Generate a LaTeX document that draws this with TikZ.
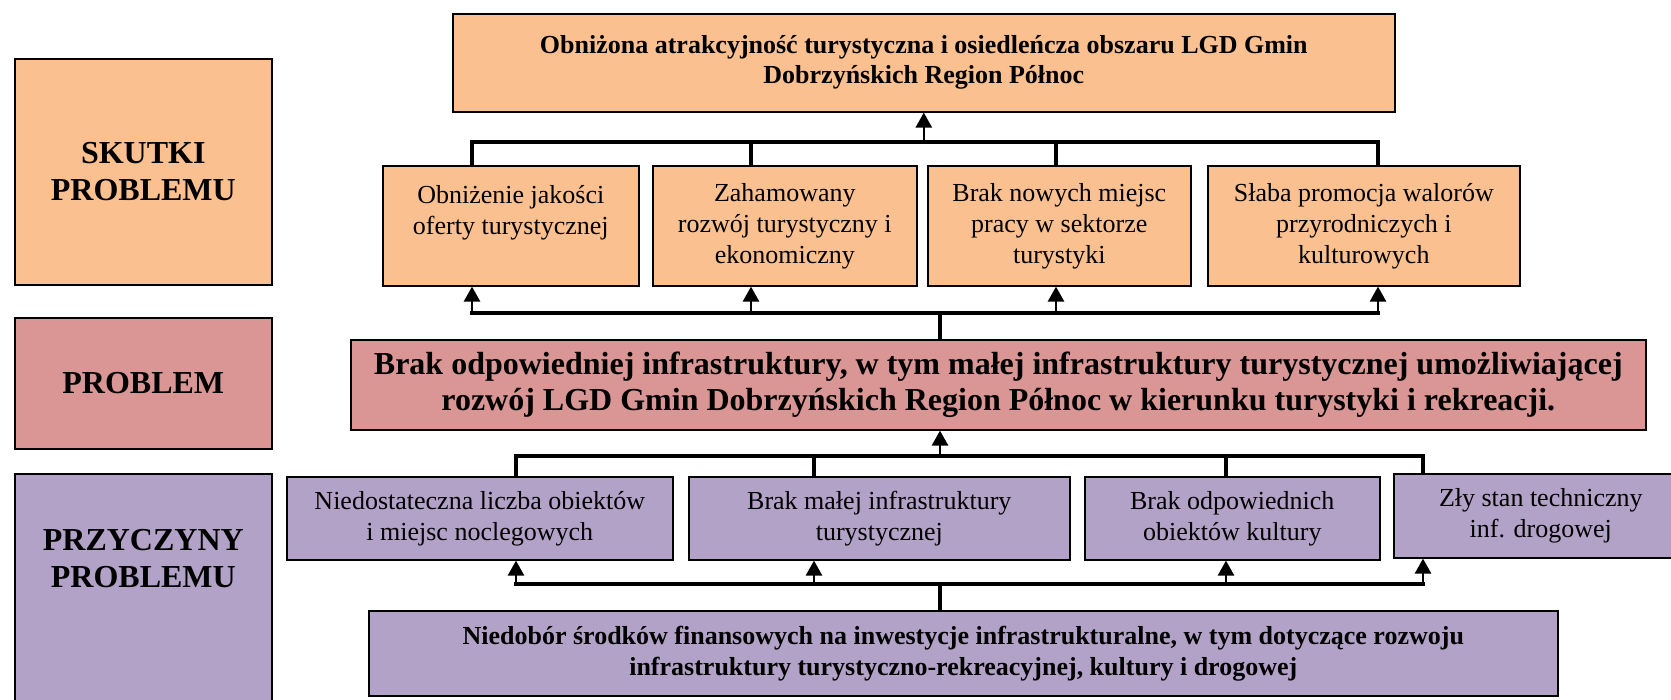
\documentclass[tikz,border=0pt]{standalone}
\usepackage{fontspec}
\setmainfont{Liberation Serif}
\usetikzlibrary{positioning,arrows.meta}
\definecolor{skutekfill}{HTML}{FAC090}
\definecolor{problemfill}{HTML}{D99694}
\definecolor{przyczynafill}{HTML}{B3A2C7}

\begin{document}
\begin{tikzpicture}[x=0.5pt, y=-0.5pt,
  box/.style = {shape=rectangle, draw, line width=0.8pt,
    align=center, inner sep=2pt, anchor=north west},
  side/.style = {box, minimum width=128.5pt,
    font=\fontsize{16}{18.5}\selectfont\bfseries},
  sidetext/.style = {align=center, inner sep=0pt,
    font=\fontsize{16}{18.5}\selectfont\bfseries},
  skutek/.style = {box, fill=skutekfill, minimum height=60pt,
    font=\fontsize{13}{15.5}\selectfont},
  przyczyna/.style = {box, fill=przyczynafill, minimum height=41.5pt,
    font=\fontsize{13}{15.5}\selectfont},
  bus/.style = {draw, line width=1.7pt, line cap=rect},
  up/.style = {draw, line width=1.3pt, -{Triangle[width=8pt,length=7.5pt]}}
  ]
  \useasboundingbox (0,0) rectangle (1671,700);

  % lewa kolumna
  \node[side, fill=skutekfill, minimum height=113pt] (skutki) at (14,58) {SKUTKI\\PROBLEMU};
  \node[side, fill=problemfill, minimum height=65.5pt] (problemSide) at (14,317) {PROBLEM};
  \node[side, fill=przyczynafill, minimum height=123.5pt] (przyczyny) at (14,473) {};
  \node[sidetext, below=28pt of przyczyny.north] (przyczynyTxt) {PRZYCZYNY\\PROBLEMU};

  % skutki
  \node[box, fill=skutekfill, minimum width=471pt, minimum height=49pt,
    font=\fontsize{13}{15}\selectfont\bfseries] (obnizona) at (452,13)
    {Obniżona atrakcyjność turystyczna i osiedleńcza obszaru LGD Gmin\\Dobrzyńskich Region Północ};
  \node[skutek, minimum width=128pt] (e1) at (382,165) {Obniżenie jakości\\oferty turystycznej\\~};
  \node[skutek, minimum width=132pt] (e2) at (652,165) {Zahamowany\\rozwój turystyczny i\\ekonomiczny};
  \node[skutek, minimum width=131.5pt] (e3) at (927,165) {Brak nowych miejsc\\pracy w sektorze\\turystyki};
  \node[skutek, minimum width=156pt] (e4) at (1207,165) {Słaba promocja walorów\\przyrodniczych i\\kulturowych};

  % problem
  \node[box, fill=problemfill, minimum width=647.5pt, minimum height=45pt,
    font=\fontsize{16}{18}\selectfont\bfseries] (problem) at (350,339)
    {Brak odpowiedniej infrastruktury, w tym małej infrastruktury turystycznej umożliwiającej\\rozwój LGD Gmin Dobrzyńskich Region Północ w kierunku turystyki i rekreacji.};

  % przyczyny
  \node[przyczyna, minimum width=193pt] (c1) at (286,476) {Niedostateczna liczba obiektów\\i miejsc noclegowych};
  \node[przyczyna, minimum width=190.5pt] (c2) at (688,476) {Brak małej infrastruktury\\turystycznej};
  \node[przyczyna, minimum width=147.5pt] (c3) at (1084,476) {Brak odpowiednich\\obiektów kultury};
  \node[przyczyna, minimum width=147pt, minimum height=42pt] (c4) at (1393,473) {Zły stan techniczny\\inf. drogowej};
  \node[box, fill=przyczynafill, minimum width=594.5pt, minimum height=42.5pt,
    font=\fontsize{13}{15.5}\selectfont\bfseries] (niedobor) at (368,610)
    {Niedobór środków finansowych na inwestycje infrastrukturalne, w tym dotyczące rozwoju\\infrastruktury turystyczno-rekreacyjnej, kultury i drogowej};

  % polaczenia: problem -> skutki
  \foreach \n/\x in {e1/472, e2/751, e3/1056, e4/1378}{
    \coordinate (\n-t) at (\x,142);
    \coordinate (\n-b) at (\x,313);
    \draw[up] (\n-b) -- (\n-b |- \n.south);
  }
  \draw[bus] (e1-t |- e1.north) -- (e1-t) -- (e4-t) -- (e4-t |- e4.north);
  \draw[bus] (e2-t) -- (e2-t |- e2.north) (e3-t) -- (e3-t |- e3.north);
  \draw[up] (obnizona.south |- e1-t) -- (obnizona.south);
  \draw[bus] (e1-b) -- (e4-b);
  \coordinate (pIn) at (940,313);
  \draw[bus] (pIn) -- (pIn |- problem.north);

  % polaczenia: przyczyny -> problem
  \foreach \n/\x in {c1/516, c2/814, c3/1226, c4/1423}{
    \coordinate (\n-t) at (\x,456);
    \coordinate (\n-b) at (\x,584);
    \draw[up] (\n-b) -- (\n-b |- \n.south);
  }
  \draw[bus] (c1-t |- c1.north) -- (c1-t) -- (c4-t) -- (c4-t |- c4.north);
  \draw[bus] (c2-t) -- (c2-t |- c2.north) (c3-t) -- (c3-t |- c3.north);
  \coordinate (pOut) at (940,456);
  \draw[up] (pOut) -- (pOut |- problem.south);
  \draw[bus] (c1-b) -- (c4-b);
  \coordinate (nOut) at (940,584);
  \draw[bus] (nOut) -- (nOut |- niedobor.north);
\end{tikzpicture}
\end{document}
